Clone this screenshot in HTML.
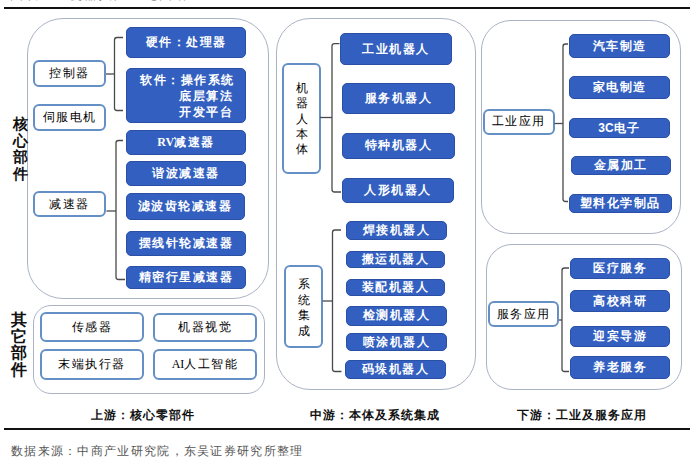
<!DOCTYPE html>
<html><head><meta charset="utf-8">
<style>
html,body{margin:0;padding:0;background:#fff;}
body{width:700px;height:465px;position:relative;overflow:hidden;font-family:"Liberation Serif",serif;}
.a{position:absolute;box-sizing:border-box;}
.panel{position:absolute;box-sizing:border-box;border:1.7px solid #aab3c4;background:#fff;}
.bb{position:absolute;box-sizing:border-box;background:#3360c0;border:1px solid #2a50a6;border-radius:5px;color:#fff;font-weight:bold;font-size:12px;display:flex;align-items:center;justify-content:center;letter-spacing:1.5px;white-space:nowrap;}
.wb{position:absolute;box-sizing:border-box;background:#fff;border:2px solid #6590c6;border-radius:6px;color:#000;font-size:12px;display:flex;align-items:center;justify-content:center;letter-spacing:1.5px;white-space:nowrap;}
.hl{position:absolute;background:#111;}
.cap{position:absolute;font-weight:bold;font-size:12px;color:#111;white-space:nowrap;letter-spacing:1px;}
.vt{position:absolute;font-weight:bold;font-size:15px;color:#111;line-height:16.5px;width:18px;text-align:center;}
svg{position:absolute;left:0;top:0;}
</style></head><body>

<!-- cut-off title at top -->
<div class="a" style="left:10px;top:-14px;font-size:13px;color:#555;white-space:nowrap;letter-spacing:2px;">图表 1：机器人产业链图谱</div>
<div class="hl" style="left:4px;top:7px;width:686px;height:2px;"></div>

<!-- panels -->
<div class="panel" style="left:26.5px;top:18px;width:242px;height:281px;border-radius:36px;"></div>
<div class="panel" style="left:33px;top:305px;width:232px;height:89px;border-radius:18px;"></div>
<div class="panel" style="left:276px;top:18.3px;width:199.8px;height:372px;border-radius:34px;"></div>
<div class="panel" style="left:481px;top:20px;width:199.5px;height:213.5px;border-radius:30px;"></div>
<div class="panel" style="left:485.5px;top:243.5px;width:196px;height:146px;border-radius:26px;"></div>

<!-- vertical labels -->
<div class="vt" style="left:11px;top:116px;">核<br>心<br>部<br>件</div>
<div class="vt" style="left:10px;top:312px;font-size:16px;">其<br>它<br>部<br>件</div>

<!-- left white boxes -->
<div class="wb" style="left:33px;top:60px;width:73px;height:27px;">控制器</div>
<div class="wb" style="left:33px;top:103.5px;width:73px;height:27.5px;">伺服电机</div>
<div class="wb" style="left:33px;top:191px;width:73px;height:26px;">减速器</div>

<!-- left blue boxes -->
<div class="bb" style="left:126px;top:27px;width:120px;height:31px;">硬件：处理器</div>
<div class="bb" style="left:126px;top:68px;width:120px;height:55px;display:block;padding-top:3px;line-height:16px;padding-left:13px;text-align:left;">软件：操作系统<br><span style="padding-left:39px">底层算法</span><br><span style="padding-left:39px">开发平台</span></div>
<div class="bb" style="left:126px;top:129.6px;width:120px;height:25.8px;"><span style="letter-spacing:0">RV</span>减速器</div>
<div class="bb" style="left:126px;top:161px;width:120px;height:25px;">谐波减速器</div>
<div class="bb" style="left:125.5px;top:192.8px;width:119px;height:26.8px;">滤波齿轮减速器</div>
<div class="bb" style="left:126px;top:230.7px;width:120px;height:25.2px;">摆线针轮减速器</div>
<div class="bb" style="left:126.3px;top:265.7px;width:119.7px;height:23.3px;">精密行星减速器</div>

<!-- other parts -->
<div class="wb" style="left:40px;top:312px;width:104px;height:30px;">传感器</div>
<div class="wb" style="left:153px;top:313px;width:104px;height:29px;">机器视觉</div>
<div class="wb" style="left:40px;top:349px;width:104px;height:31px;">末端执行器</div>
<div class="wb" style="left:153px;top:349px;width:104px;height:31px;"><span style="letter-spacing:0">AI</span>人工智能</div>

<!-- middle -->
<div class="wb" style="left:282px;top:63px;width:39px;height:111px;line-height:15.3px;font-size:12px;text-align:center;display:block;padding-top:16px;letter-spacing:0;">机<br>器<br>人<br>本<br>体</div>
<div class="bb" style="left:339.7px;top:33.3px;width:112.3px;height:31.7px;">工业机器人</div>
<div class="bb" style="left:342px;top:83px;width:113px;height:31px;">服务机器人</div>
<div class="bb" style="left:342px;top:132.6px;width:113px;height:26.4px;">特种机器人</div>
<div class="bb" style="left:341.6px;top:178px;width:112.4px;height:24.6px;">人形机器人</div>

<div class="wb" style="left:283.8px;top:265px;width:39.5px;height:82.5px;line-height:15.8px;font-size:12px;text-align:center;display:block;padding-top:9.8px;letter-spacing:0;">系<br>统<br>集<br>成</div>
<div class="bb" style="left:346px;top:221px;width:101px;height:19px;">焊接机器人</div>
<div class="bb" style="left:345.6px;top:251px;width:99.5px;height:17.4px;">搬运机器人</div>
<div class="bb" style="left:345.6px;top:279px;width:99.5px;height:17.4px;">装配机器人</div>
<div class="bb" style="left:346px;top:305.6px;width:101px;height:20px;">检测机器人</div>
<div class="bb" style="left:346px;top:333px;width:101px;height:18px;">喷涂机器人</div>
<div class="bb" style="left:344.7px;top:360.4px;width:101.5px;height:18.8px;">码垛机器人</div>

<!-- right -->
<div class="wb" style="left:482.5px;top:109px;width:72px;height:25.5px;">工业应用</div>
<div class="bb" style="left:569px;top:34px;width:101px;height:24px;">汽车制造</div>
<div class="bb" style="left:569px;top:76px;width:101px;height:23px;">家电制造</div>
<div class="bb" style="left:569px;top:118px;width:101px;height:20px;"><span style="letter-spacing:0;font-family:'Liberation Sans',sans-serif">3C</span>电子</div>
<div class="bb" style="left:571px;top:155.8px;width:99.6px;height:19.7px;">金属加工</div>
<div class="bb" style="left:569px;top:194px;width:102.5px;height:19px;">塑料化学制品</div>

<div class="wb" style="left:488px;top:301px;width:71px;height:26px;">服务应用</div>
<div class="bb" style="left:570px;top:258px;width:100px;height:21px;">医疗服务</div>
<div class="bb" style="left:570px;top:290px;width:100px;height:22px;">高校科研</div>
<div class="bb" style="left:570px;top:326px;width:100px;height:21px;">迎宾导游</div>
<div class="bb" style="left:570px;top:356px;width:100px;height:23px;">养老服务</div>

<!-- brackets -->
<svg width="700" height="465" viewBox="0 0 700 465">
<g fill="none" stroke="#4a4a4a" stroke-width="1.3">
<path d="M123 37.5 H117 Q114.5 37.5 114.5 40 V108 Q114.5 110.5 117 110.5 H123"/>
<path d="M106 74 H114.5"/>
<path d="M123 140.5 H118.5 Q116 140.5 116 143 V277 Q116 279.5 118.5 279.5 H125"/>
<path d="M106.5 211 H116"/>
<path d="M339.5 43.6 H334.5 Q332 43.6 332 46.1 V189.5 Q332 192 334.5 192 H341"/>
<path d="M320 117.5 H332"/>
<path d="M341 230 H335 Q332.5 230 332.5 232.5 V369 Q332.5 371.5 335 371.5 H341.5"/>
<path d="M322.5 301 H332.5"/>
<path d="M568 44 H565.5 Q563 44 563 46.5 V199 Q563 201.5 565.5 201.5 H568"/>
<path d="M554.5 123.5 H563"/>
<path d="M569 268 H564.5 Q562 268 562 270.5 V369 Q562 371.5 564.5 371.5 H569"/>
<path d="M559 320 H562"/>
</g>
</svg>

<!-- captions -->
<div class="cap" style="left:91px;top:407px;">上游：核心零部件</div>
<div class="cap" style="left:310px;top:407px;">中游：本体及系统集成</div>
<div class="cap" style="left:517px;top:407px;">下游：工业及服务应用</div>
<div class="hl" style="left:4px;top:427.6px;width:686px;height:2px;"></div>
<div class="a" style="left:11px;top:443px;font-size:12px;color:#555;white-space:nowrap;letter-spacing:1.3px;">数据来源：中商产业研究院，东吴证券研究所整理</div>

</body></html>
